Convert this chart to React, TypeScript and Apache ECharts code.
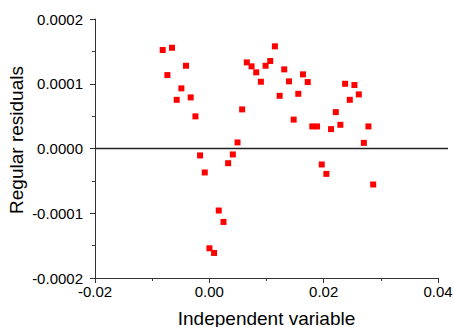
import React, { useEffect, useRef } from "react";
import * as echarts from "echarts";

const xValues = [
  -0.00816, -0.00734, -0.00653, -0.00571, -0.00489, -0.00408, -0.00326, -0.00243,
  -0.00162, -0.0008, 0.00002, 0.00083, 0.00165, 0.00248, 0.00329, 0.00411,
  0.00493, 0.00574, 0.00656, 0.00739, 0.0082, 0.00902, 0.00984, 0.01065,
  0.01147, 0.0123, 0.0131, 0.01393, 0.01475, 0.01556, 0.01638, 0.01721,
  0.01801, 0.01884, 0.01966, 0.02047, 0.02129, 0.02212, 0.02292, 0.02375,
  0.02457, 0.02538, 0.02615, 0.02703, 0.02783, 0.02866,
];
const residuals = [
  0.0001521, 0.0001134, 0.0001556, 0.0000752, 0.0000929, 0.0001278, 0.0000789, 0.0000496,
  -0.0000107, -0.000037, -0.0001541, -0.0001613, -0.0000958, -0.0001134, -0.0000227, -0.0000092,
  0.0000094, 0.0000604, 0.000133, 0.0001269, 0.0001176, 0.0001031, 0.0001278, 0.0001351,
  0.0001578, 0.0000814, 0.0001222, 0.0001037, 0.0000446, 0.0000845, 0.0001145, 0.0001026,
  0.0000341, 0.0000341, -0.0000247, -0.0000392, 0.0000299, 0.0000562, 0.0000366, 0.0001,
  0.0000752, 0.000098, 0.0000836, 0.0000087, 0.0000341, -0.0000556,
];
const xAxisRange = { min: -0.02, max: 0.04, interval: 0.02 };
const yAxisRange = { min: -0.0002, max: 0.0002, interval: 0.0001 };
const zeroLineX = [-0.02, 0.0418];
const zeroLineY = [0, 0];
const xTitle = "Independent variable";
const yTitle = "Regular residuals";

export default function App() {
  const ref = useRef<HTMLDivElement>(null);
  useEffect(() => {
    if (!ref.current) return;
    const chart = echarts.init(ref.current, null, { renderer: "svg" });
    const font = "'Liberation Sans', Arial, sans-serif";
    const axisLine = { show: true, onZero: false, lineStyle: { color: "#333", width: 1 } };
    chart.setOption({
      animation: false,
      grid: [
        { left: 95, right: 16, top: 19, bottom: 49, outerBoundsMode: "none", containLabel: false },
        { left: 95, right: 6, top: 19, bottom: 49, outerBoundsMode: "none", containLabel: false },
      ],
      xAxis: [
        {
          type: "value",
          gridIndex: 0,
          min: xAxisRange.min,
          max: xAxisRange.max,
          interval: xAxisRange.interval,
          name: xTitle,
          nameLocation: "middle",
          nameGap: 31,
          nameTextStyle: { fontFamily: font, fontSize: 19, color: "#000" },
          axisLine,
          axisTick: { show: true, length: 5, lineStyle: { color: "#333" } },
          minorTick: { show: true, splitNumber: 2, length: 3, lineStyle: { color: "#333" } },
          splitLine: { show: false },
          axisLabel: {
            fontFamily: font,
            fontSize: 15,
            color: "#000",
            margin: 6,
            formatter: (v: number) => v.toFixed(2),
          },
        },
        {
          type: "value",
          gridIndex: 1,
          min: zeroLineX[0],
          max: zeroLineX[1],
          show: false,
        },
      ],
      yAxis: [
        {
          type: "value",
          gridIndex: 0,
          min: yAxisRange.min,
          max: yAxisRange.max,
          interval: yAxisRange.interval,
          axisLine,
          axisTick: { show: true, length: 5, lineStyle: { color: "#333" } },
          minorTick: { show: true, splitNumber: 2, length: 3, lineStyle: { color: "#333" } },
          splitLine: { show: false },
          axisLabel: {
            fontFamily: font,
            fontSize: 15,
            color: "#000",
            margin: 12,
            formatter: (v: number) => v.toFixed(4),
          },
        },
        {
          type: "value",
          gridIndex: 1,
          min: yAxisRange.min,
          max: yAxisRange.max,
          show: false,
        },
      ],
      graphic: [
        {
          type: "text",
          x: 16,
          y: 140,
          rotation: Math.PI / 2,
          style: {
            text: yTitle,
            font: `19px ${font}`,
            fill: "#000",
            align: "center",
            verticalAlign: "middle",
          },
        },
      ],
      series: [
        {
          type: "line",
          xAxisIndex: 1,
          yAxisIndex: 1,
          symbol: "none",
          silent: true,
          lineStyle: { color: "#222", width: 1.3 },
          data: zeroLineX.map((x, i) => [x, zeroLineY[i]]),
        },
        {
          type: "scatter",
          xAxisIndex: 0,
          yAxisIndex: 0,
          symbol: "rect",
          symbolSize: 6,
          itemStyle: { color: "#ff0000", opacity: 1 },
          data: xValues.map((x, i) => [x, residuals[i]]),
        },
      ],
    });
    return () => chart.dispose();
  }, []);
  return (
    <div
      ref={ref}
      style={{ position: "absolute", left: 0, top: 0, width: 454, height: 327 }}
    />
  );
}
